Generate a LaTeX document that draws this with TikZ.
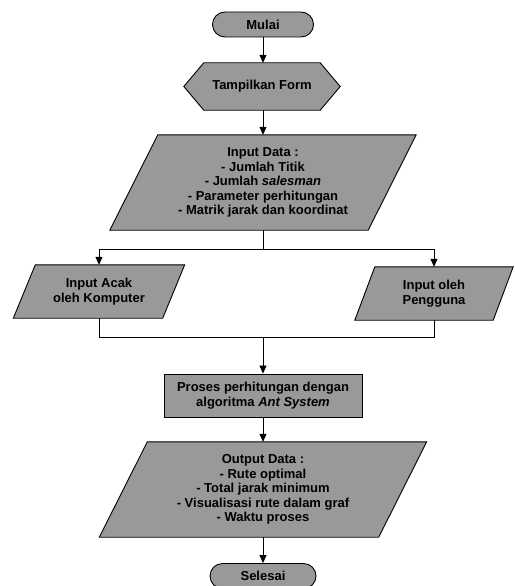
\documentclass[tikz,border=0pt]{standalone}
\usepackage{fontspec}
\setmainfont{Liberation Sans}
\usetikzlibrary{arrows.meta,backgrounds,calc}
\tikzset{
  txt/.style={inner sep=0pt, align=center, font=\fontsize{13}{14.6}\selectfont\bfseries},
  shapefill/.style={fill=black!40, draw=black, line width=0.9pt},
  terminal/.style={txt, shapefill, rounded corners=12.5pt},
  procbox/.style={txt, shapefill},
  arr/.style={-{Triangle[length=8pt,width=7pt]}, line width=0.8pt},
  conn/.style={line width=0.8pt},
}
\begin{document}
\begin{tikzpicture}[x=1pt,y=-1pt]
\useasboundingbox (0,0) rectangle (514,586);

\node[terminal, minimum width=101pt, minimum height=25pt] (mulai) at (263,24.5) {Mulai};
\node[txt, minimum width=116pt, minimum height=47pt] (form) at (262,86.5) {Tampilkan Form};
\node[txt, minimum width=258pt, minimum height=95pt] (indata) at (263,182.5)
  {Input Data :\\- Jumlah Titik\\- Jumlah \textit{salesman}\\- Parameter perhitungan\\- Matrik jarak dan koordinat};
\node[txt, minimum width=149pt, minimum height=53pt] (acak) at (99,291.5) {Input Acak\\oleh Komputer};
\node[txt, minimum width=138pt, minimum height=53pt] (pengguna) at (434,293.5) {Input oleh\\Pengguna};
\node[procbox, minimum width=198pt, minimum height=43pt] (proses) at (263,395.5)
  {Proses perhitungan dengan\\algoritma \textit{Ant System}};
\node[txt, minimum width=279pt, minimum height=95pt] (outdata) at (263,489.5)
  {Output Data :\\- Rute optimal\\- Total jarak minimum\\- Visualisasi rute dalam graf\\- Waktu proses};
\node[terminal, minimum width=106pt, minimum height=25pt] (selesai) at (263,576) {Selesai};

\begin{scope}[on background layer]
  \fill[white] (0,0) rectangle (514,586);
  \filldraw[shapefill] (form.north west) -- (form.north east) -- ($(form.east)+(20,0)$)
    -- (form.south east) -- (form.south west) -- ($(form.west)+(-20,0)$) -- cycle;
  \filldraw[shapefill] ($(indata.north west)+(24,0)$) -- ($(indata.north east)+(24,0)$)
    -- ($(indata.south east)+(-24,0)$) -- ($(indata.south west)+(-24,0)$) -- cycle;
  \filldraw[shapefill] ($(acak.north west)+(11,0)$) -- ($(acak.north east)+(11,0)$)
    -- ($(acak.south east)+(-11,0)$) -- ($(acak.south west)+(-11,0)$) -- cycle;
  \filldraw[shapefill] ($(pengguna.north west)+(10,0)$) -- ($(pengguna.north east)+(10,0)$)
    -- ($(pengguna.south east)+(-10,0)$) -- ($(pengguna.south west)+(-10,0)$) -- cycle;
  \filldraw[shapefill] ($(outdata.north west)+(24,0)$) -- ($(outdata.north east)+(24,0)$)
    -- ($(outdata.south east)+(-24,0)$) -- ($(outdata.south west)+(-24,0)$) -- cycle;
\end{scope}

\coordinate (split) at (263,249);
\coordinate (merge) at (263,337);

\draw[arr] (mulai.south) -- (mulai.south |- form.north);
\draw[arr] (form.south -| mulai.south) -- (indata.north);
\draw[conn] (indata.south) -- (split);
\draw[arr] (split) -| (acak.north);
\draw[arr] (split) -| (pengguna.north);
\draw[conn] (acak.south) |- (merge);
\draw[conn] (pengguna.south) |- (merge);
\draw[arr] (merge) -- (proses.north);
\draw[arr] (proses.south) -- (outdata.north);
\draw[arr] (outdata.south) -- (selesai.north);
\end{tikzpicture}
\end{document}
